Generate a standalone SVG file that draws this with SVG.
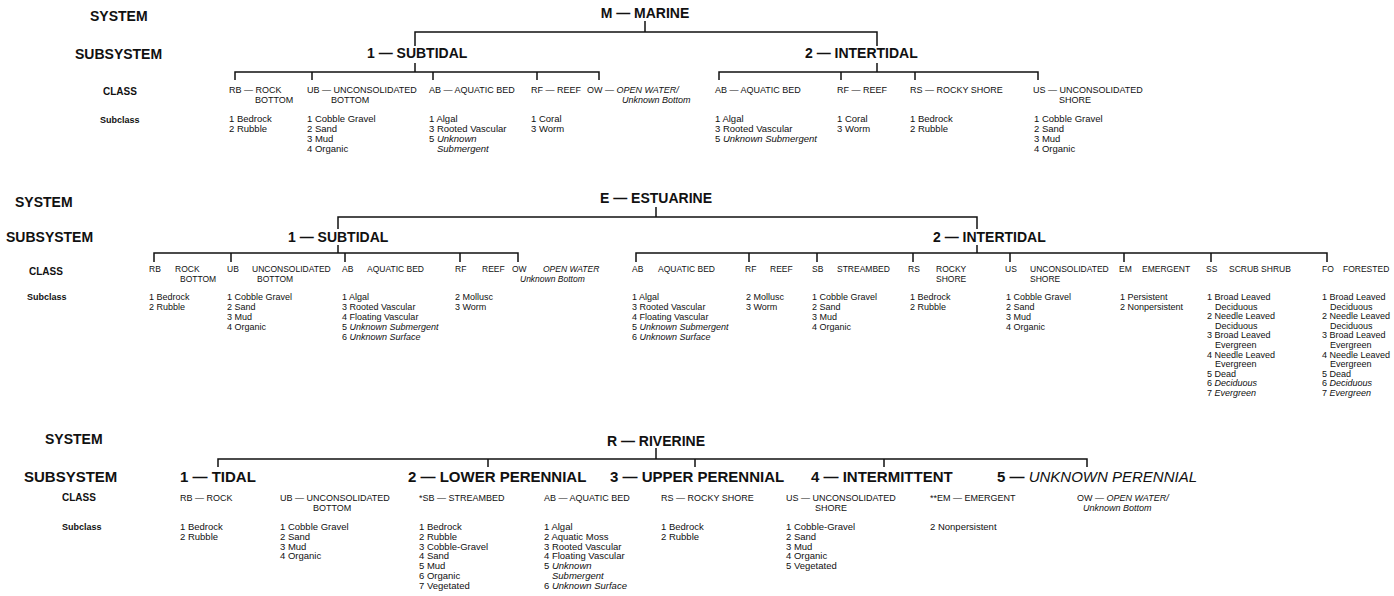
<svg xmlns="http://www.w3.org/2000/svg" width="1394" height="596" viewBox="0 0 1394 596">
<style>
text{font-family:"Liberation Sans",Arial,Helvetica,sans-serif;fill:#111}
.h{font-size:14px;font-weight:bold}
.h15{font-size:15px;font-weight:bold}
.lab{font-size:10px;font-weight:bold}
.sl{font-size:9px;font-weight:bold}
.c{font-size:9px}
.s{font-size:9.5px}
.e .c{font-size:8.5px}
.e .s{font-size:9px}
.it{font-style:italic}
.hi{font-style:italic;font-weight:normal}
#connectors path{fill:none;stroke:#111;stroke-width:1.5}
</style>
<rect width="1394" height="596" fill="#fff"/>
<g id="connectors">
<!-- Marine -->
<path d="M645,21V32"/>
<path d="M415,46V32H877V46"/>
<path d="M415,63V72"/>
<path d="M235,80V72H599V80M312,72V80M433,72V80M537,72V80"/>
<path d="M877,63V72"/>
<path d="M719,80V72H1038V80M841,72V80M915,72V80"/>
<!-- Estuarine -->
<path d="M656,207V217"/>
<path d="M338,229V217H977V229"/>
<path d="M338,245V253"/>
<path d="M154,262V253H518V262M231,253V262M345,253V262M460,253V262"/>
<path d="M977,245V253"/>
<path d="M636,262V253H1327V262M749,253V262M817,253V262M913,253V262M1010,253V262M1124,253V262M1211,253V262"/>
<!-- Riverine -->
<path d="M656,448V459"/>
<path d="M218,467V459H1087V467M488,459V467M695,459V467M884,459V467"/>
</g>

<!-- ===== MARINE ===== -->
<g id="marine-levels">
<text class="h" x="90" y="21">SYSTEM</text>
<text class="h" x="75" y="59">SUBSYSTEM</text>
<text class="lab" x="103" y="95">CLASS</text>
<text class="sl" x="100" y="123">Subclass</text>
</g>
<g id="M"><text class="h" x="645" y="18" text-anchor="middle">M — MARINE</text></g>
<g id="M1"><text class="h" x="367" y="58">1 — SUBTIDAL</text></g>
<g id="M2"><text class="h" x="805" y="58">2 — INTERTIDAL</text></g>
<g id="M1-RB">
<text class="c" x="229" y="93">RB — ROCK<tspan x="255" dy="10">BOTTOM</tspan></text>
<text class="s" x="229" y="122">1 Bedrock<tspan x="229" dy="10">2 Rubble</tspan></text>
</g>
<g id="M1-UB">
<text class="c" x="307" y="93">UB — UNCONSOLIDATED<tspan x="331" dy="10">BOTTOM</tspan></text>
<text class="s" x="307" y="122">1 Cobble Gravel<tspan x="307" dy="10">2 Sand</tspan><tspan x="307" dy="10">3 Mud</tspan><tspan x="307" dy="10">4 Organic</tspan></text>
</g>
<g id="M1-AB">
<text class="c" x="429" y="93">AB — AQUATIC BED</text>
<text class="s" x="429" y="122">1 Algal<tspan x="429" dy="10">3 Rooted Vascular</tspan><tspan x="429" dy="10">5 <tspan class="it">Unknown</tspan></tspan><tspan x="437" dy="10" class="it">Submergent</tspan></text>
</g>
<g id="M1-RF">
<text class="c" x="531" y="93">RF — REEF</text>
<text class="s" x="531" y="122">1 Coral<tspan x="531" dy="10">3 Worm</tspan></text>
</g>
<g id="M1-OW">
<text class="c" x="587" y="93">OW — <tspan class="it">OPEN WATER/</tspan><tspan class="it" x="622" dy="10">Unknown Bottom</tspan></text>
</g>
<g id="M2-AB">
<text class="c" x="715" y="93">AB — AQUATIC BED</text>
<text class="s" x="715" y="122">1 Algal<tspan x="715" dy="10">3 Rooted Vascular</tspan><tspan x="715" dy="10">5 <tspan class="it">Unknown Submergent</tspan></tspan></text>
</g>
<g id="M2-RF">
<text class="c" x="837" y="93">RF — REEF</text>
<text class="s" x="837" y="122">1 Coral<tspan x="837" dy="10">3 Worm</tspan></text>
</g>
<g id="M2-RS">
<text class="c" x="910" y="93">RS — ROCKY SHORE</text>
<text class="s" x="910" y="122">1 Bedrock<tspan x="910" dy="10">2 Rubble</tspan></text>
</g>
<g id="M2-US">
<text class="c" x="1033" y="93">US — UNCONSOLIDATED<tspan x="1059" dy="10">SHORE</tspan></text>
<text class="s" x="1034" y="122">1 Cobble Gravel<tspan x="1034" dy="10">2 Sand</tspan><tspan x="1034" dy="10">3 Mud</tspan><tspan x="1034" dy="10">4 Organic</tspan></text>
</g>

<!-- ===== ESTUARINE ===== -->
<g id="estuarine-levels">
<text class="h" x="15" y="207">SYSTEM</text>
<text class="h" x="6" y="242">SUBSYSTEM</text>
<text class="lab" x="29" y="275">CLASS</text>
<text class="sl" x="27" y="300">Subclass</text>
</g>
<g id="E"><text class="h" x="656" y="203" text-anchor="middle">E — ESTUARINE</text></g>
<g id="E1"><text class="h" x="288" y="242">1 — SUBTIDAL</text></g>
<g id="E2"><text class="h" x="933" y="242">2 — INTERTIDAL</text></g>
<g class="e">
<g id="E1-RB">
<text class="c" x="149" y="272">RB<tspan x="175">ROCK</tspan><tspan x="180" dy="10">BOTTOM</tspan></text>
<text class="s" x="149" y="300">1 Bedrock<tspan x="149" dy="10">2 Rubble</tspan></text>
</g>
<g id="E1-UB">
<text class="c" x="227" y="272">UB<tspan x="252">UNCONSOLIDATED</tspan><tspan x="257" dy="10">BOTTOM</tspan></text>
<text class="s" x="227" y="300">1 Cobble Gravel<tspan x="227" dy="10">2 Sand</tspan><tspan x="227" dy="10">3 Mud</tspan><tspan x="227" dy="10">4 Organic</tspan></text>
</g>
<g id="E1-AB">
<text class="c" x="342" y="272">AB<tspan x="367">AQUATIC BED</tspan></text>
<text class="s" x="342" y="300">1 Algal<tspan x="342" dy="10">3 Rooted Vascular</tspan><tspan x="342" dy="10">4 Floating Vascular</tspan><tspan x="342" dy="10">5 <tspan class="it">Unknown Submergent</tspan></tspan><tspan x="342" dy="10">6 <tspan class="it">Unknown Surface</tspan></tspan></text>
</g>
<g id="E1-RF">
<text class="c" x="455" y="272">RF<tspan x="482">REEF</tspan></text>
<text class="s" x="455" y="300">2 Mollusc<tspan x="455" dy="10">3 Worm</tspan></text>
</g>
<g id="E1-OW">
<text class="c" x="512" y="272">OW<tspan class="it" x="543">OPEN WATER</tspan><tspan class="it" x="520" dy="10">Unknown Bottom</tspan></text>
</g>
<g id="E2-AB">
<text class="c" x="632" y="272">AB<tspan x="658">AQUATIC BED</tspan></text>
<text class="s" x="632" y="300">1 Algal<tspan x="632" dy="10">3 Rooted Vascular</tspan><tspan x="632" dy="10">4 Floating Vascular</tspan><tspan x="632" dy="10">5 <tspan class="it">Unknown Submergent</tspan></tspan><tspan x="632" dy="10">6 <tspan class="it">Unknown Surface</tspan></tspan></text>
</g>
<g id="E2-RF">
<text class="c" x="745" y="272">RF<tspan x="770">REEF</tspan></text>
<text class="s" x="746" y="300">2 Mollusc<tspan x="746" dy="10">3 Worm</tspan></text>
</g>
<g id="E2-SB">
<text class="c" x="812" y="272">SB<tspan x="837">STREAMBED</tspan></text>
<text class="s" x="812" y="300">1 Cobble Gravel<tspan x="812" dy="10">2 Sand</tspan><tspan x="812" dy="10">3 Mud</tspan><tspan x="812" dy="10">4 Organic</tspan></text>
</g>
<g id="E2-RS">
<text class="c" x="908" y="272">RS<tspan x="936">ROCKY</tspan><tspan x="936" dy="10">SHORE</tspan></text>
<text class="s" x="910" y="300">1 Bedrock<tspan x="910" dy="10">2 Rubble</tspan></text>
</g>
<g id="E2-US">
<text class="c" x="1005" y="272">US<tspan x="1030">UNCONSOLIDATED</tspan><tspan x="1030" dy="10">SHORE</tspan></text>
<text class="s" x="1006" y="300">1 Cobble Gravel<tspan x="1006" dy="10">2 Sand</tspan><tspan x="1006" dy="10">3 Mud</tspan><tspan x="1006" dy="10">4 Organic</tspan></text>
</g>
<g id="E2-EM">
<text class="c" x="1119" y="272">EM<tspan x="1142">EMERGENT</tspan></text>
<text class="s" x="1120" y="300">1 Persistent<tspan x="1120" dy="10">2 Nonpersistent</tspan></text>
</g>
<g id="E2-SS">
<text class="c" x="1206" y="272">SS<tspan x="1229">SCRUB SHRUB</tspan></text>
<text class="s" x="1207" y="300">1 Broad Leaved<tspan x="1215" dy="9.6">Deciduous</tspan><tspan x="1207" dy="9.6">2 Needle Leaved</tspan><tspan x="1215" dy="9.6">Deciduous</tspan><tspan x="1207" dy="9.6">3 Broad Leaved</tspan><tspan x="1215" dy="9.6">Evergreen</tspan><tspan x="1207" dy="9.6">4 Needle Leaved</tspan><tspan x="1215" dy="9.6">Evergreen</tspan><tspan x="1207" dy="9.6">5 Dead</tspan><tspan x="1207" dy="9.6">6 <tspan class="it">Deciduous</tspan></tspan><tspan x="1207" dy="9.6">7 <tspan class="it">Evergreen</tspan></tspan></text>
</g>
<g id="E2-FO">
<text class="c" x="1322" y="272">FO<tspan x="1343">FORESTED</tspan></text>
<text class="s" x="1322" y="300">1 Broad Leaved<tspan x="1330" dy="9.6">Deciduous</tspan><tspan x="1322" dy="9.6">2 Needle Leaved</tspan><tspan x="1330" dy="9.6">Deciduous</tspan><tspan x="1322" dy="9.6">3 Broad Leaved</tspan><tspan x="1330" dy="9.6">Evergreen</tspan><tspan x="1322" dy="9.6">4 Needle Leaved</tspan><tspan x="1330" dy="9.6">Evergreen</tspan><tspan x="1322" dy="9.6">5 Dead</tspan><tspan x="1322" dy="9.6">6 <tspan class="it">Deciduous</tspan></tspan><tspan x="1322" dy="9.6">7 <tspan class="it">Evergreen</tspan></tspan></text>
</g>
</g>

<!-- ===== RIVERINE ===== -->
<g id="riverine-levels">
<text class="h" x="45" y="444">SYSTEM</text>
<text class="h15" x="24" y="482">SUBSYSTEM</text>
<text class="lab" x="62" y="501">CLASS</text>
<text class="sl" x="62" y="530">Subclass</text>
</g>
<g id="R"><text class="h" x="656" y="446" text-anchor="middle">R — RIVERINE</text></g>
<g id="R1"><text class="h15" x="180" y="482">1 — TIDAL</text></g>
<g id="R2"><text class="h15" x="408" y="482">2 — LOWER PERENNIAL</text></g>
<g id="R3"><text class="h15" x="610" y="482">3 — UPPER PERENNIAL</text></g>
<g id="R4"><text class="h15" x="811" y="482">4 — INTERMITTENT</text></g>
<g id="R5"><text class="h15" x="997" y="482">5 — <tspan class="hi">UNKNOWN PERENNIAL</tspan></text></g>
<g id="R-RB">
<text class="c" x="180" y="501">RB — ROCK</text>
<text class="s" x="180" y="530">1 Bedrock<tspan x="180" dy="9.8">2 Rubble</tspan></text>
</g>
<g id="R-UB">
<text class="c" x="280" y="501">UB — UNCONSOLIDATED<tspan x="313" dy="10">BOTTOM</tspan></text>
<text class="s" x="280" y="530">1 Cobble Gravel<tspan x="280" dy="9.8">2 Sand</tspan><tspan x="280" dy="9.8">3 Mud</tspan><tspan x="280" dy="9.8">4 Organic</tspan></text>
</g>
<g id="R-SB">
<text class="c" x="419" y="501">*SB — STREAMBED</text>
<text class="s" x="419" y="530">1 Bedrock<tspan x="419" dy="9.8">2 Rubble</tspan><tspan x="419" dy="9.8">3 Cobble-Gravel</tspan><tspan x="419" dy="9.8">4 Sand</tspan><tspan x="419" dy="9.8">5 Mud</tspan><tspan x="419" dy="9.8">6 Organic</tspan><tspan x="419" dy="9.8">7 Vegetated</tspan></text>
</g>
<g id="R-AB">
<text class="c" x="544" y="501">AB — AQUATIC BED</text>
<text class="s" x="544" y="530">1 Algal<tspan x="544" dy="9.8">2 Aquatic Moss</tspan><tspan x="544" dy="9.8">3 Rooted Vascular</tspan><tspan x="544" dy="9.8">4 Floating Vascular</tspan><tspan x="544" dy="9.8">5 <tspan class="it">Unknown</tspan></tspan><tspan x="552" dy="9.8" class="it">Submergent</tspan><tspan x="544" dy="9.8">6 <tspan class="it">Unknown Surface</tspan></tspan></text>
</g>
<g id="R-RS">
<text class="c" x="661" y="501">RS — ROCKY SHORE</text>
<text class="s" x="661" y="530">1 Bedrock<tspan x="661" dy="9.8">2 Rubble</tspan></text>
</g>
<g id="R-US">
<text class="c" x="786" y="501">US — UNCONSOLIDATED<tspan x="815" dy="10">SHORE</tspan></text>
<text class="s" x="786" y="530">1 Cobble-Gravel<tspan x="786" dy="9.8">2 Sand</tspan><tspan x="786" dy="9.8">3 Mud</tspan><tspan x="786" dy="9.8">4 Organic</tspan><tspan x="786" dy="9.8">5 Vegetated</tspan></text>
</g>
<g id="R-EM">
<text class="c" x="930" y="501">**EM — EMERGENT</text>
<text class="s" x="930" y="530">2 Nonpersistent</text>
</g>
<g id="R-OW">
<text class="c" x="1077" y="501">OW — <tspan class="it">OPEN WATER/</tspan><tspan class="it" x="1083" dy="10">Unknown Bottom</tspan></text>
</g>
</svg>
